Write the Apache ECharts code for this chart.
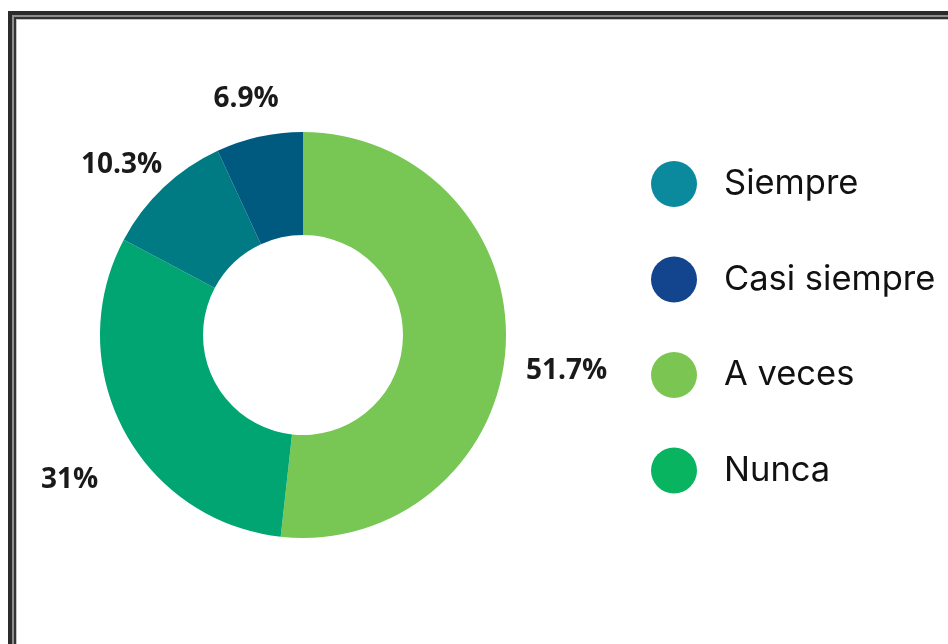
<!DOCTYPE html>
<html>
<head>
<meta charset="utf-8">
<script src="https://cdn.jsdelivr.net/npm/echarts@6/dist/echarts.min.js"></script>
<style>
  html, body { margin: 0; padding: 0; background: #ffffff; width: 948px; height: 644px; overflow: hidden; }
  #frame { position: absolute; left: 8px; top: 11px; width: 1100px; height: 800px; border-left: 4px solid #2b2b2b; border-top: 4px solid #2b2b2b; box-sizing: border-box; }
  #frame2 { position: absolute; left: 0; top: 0; right: 0; bottom: 0; border-left: 2px solid #8e8e8e; border-top: 2px solid #8e8e8e; }
  #frame3 { position: absolute; left: 0; top: 0; right: 0; bottom: 0; border-left: 2px solid #333333; border-top: 2px solid #333333; }
  #frame4 { position: absolute; left: 0; top: 0; right: 0; bottom: 0; border-left: 1px solid #c4c4c4; border-top: 1px solid #c4c4c4; }
  #chart { position: absolute; left: 0; top: 0; width: 948px; height: 644px; }
</style>
</head>
<body>
<div id="frame"><div id="frame2"><div id="frame3"><div id="frame4"></div></div></div></div>
<div id="chart"></div>
<script>
// Slices in drawing order (clockwise from 12 o'clock)
const sliceNames  = ['A veces', 'Nunca', 'Siempre', 'Casi siempre'];
const sliceValues = [51.7, 31, 10.3, 6.9];
const sliceColors = ['#78c653', '#00a572', '#007b84', '#005a80'];

// Legend order and icon colours
const legendNames  = ['Siempre', 'Casi siempre', 'A veces', 'Nunca'];
const legendColors = ['#0b8a9e', '#13448e', '#7bc653', '#08b45f'];

const pieData = sliceNames.map((n, i) => ({ name: n, value: sliceValues[i], itemStyle: { color: sliceColors[i] } }));
const labelData = sliceNames.map((n, i) => ({ name: n, value: sliceValues[i] }));

const chart = echarts.init(document.getElementById('chart'), null, { renderer: 'canvas' });
chart.setOption({
  backgroundColor: 'transparent',
  animation: false,
  legend: {
    orient: 'vertical',
    left: 651,
    top: 161,
    padding: 0,
    icon: 'circle',
    itemWidth: 46,
    itemHeight: 46,
    itemGap: 49.5,
    selectedMode: false,
    textStyle: { fontFamily: 'Inter', fontSize: 34.5, color: '#111111', padding: [0, 0, 0, 22] },
    data: legendNames.map((n, i) => ({ name: n, itemStyle: { color: legendColors[i] } }))
  },
  series: [
    {
      name: 'donut',
      type: 'pie',
      center: [303, 335],
      radius: [100, 203],
      startAngle: 90,
      clockwise: true,
      silent: true,
      label: { show: false },
      labelLine: { show: false },
      data: pieData
    },
    {
      name: 'labels',
      type: 'pie',
      center: [303, 335],
      radius: [240, 282],
      startAngle: 90,
      clockwise: true,
      silent: true,
      itemStyle: { color: 'rgba(0,0,0,0)' },
      label: {
        show: true,
        position: 'inside',
        offset: [0, 22],
        formatter: p => p.value + '%',
        fontFamily: 'Open Sans',
        fontWeight: 'bold',
        fontSize: 28,
        color: '#1a1a1a'
      },
      labelLine: { show: false },
      data: labelData
    }
  ]
});
</script>
</body>
</html>
